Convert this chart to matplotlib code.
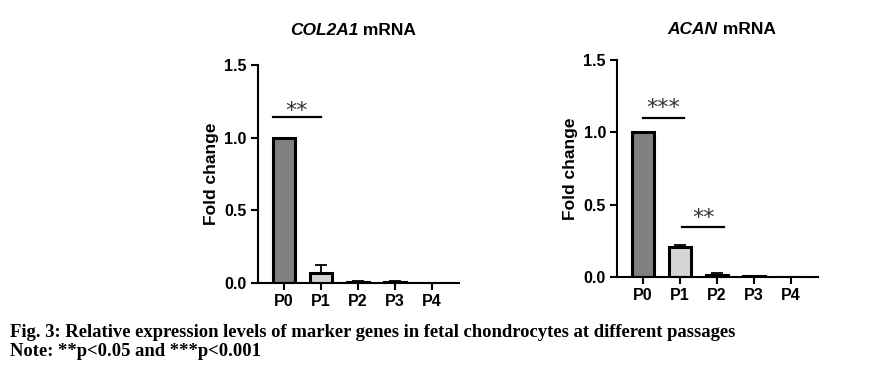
import numpy as np
import matplotlib.pyplot as plt

# Data
passages = ["P0", "P1", "P2", "P3", "P4"]
col2a1_mean = [1.0, 0.071, 0.005, 0.004, 0.0]
col2a1_err = [0.0, 0.055, 0.009, 0.008, 0.0]
acan_mean = [1.0, 0.21, 0.014, 0.004, 0.0]
acan_err = [0.0, 0.013, 0.014, 0.006, 0.0]
bar_colors = ["#808080", "#d4d4d4", "#d4d4d4", "#d4d4d4", "#d4d4d4"]

sans = ["Liberation Sans", "DejaVu Sans"]

fig = plt.figure(figsize=(8.73, 3.78), dpi=100)
ax1 = fig.add_axes([0.2955, 0.2513, 0.2303, 0.577])
ax2 = fig.add_axes([0.7068, 0.2672, 0.2302, 0.574])

x = np.arange(len(passages))


def draw(ax, mean, err, title_it, title_y, sig):
    ax.bar(x, mean, width=0.6, color=bar_colors, edgecolor="black", linewidth=2.2, zorder=2)
    ax.errorbar(x, mean, yerr=[np.zeros(len(err)), err], fmt="none", ecolor="black",
                elinewidth=1.3, capsize=4.5, capthick=1.3, zorder=1)
    ax.set_xlim(-0.7, 4.73)
    ax.set_ylim(0, 1.5)
    ax.set_yticks([0.0, 0.5, 1.0, 1.5])
    ax.set_yticklabels(["0.0", "0.5", "1.0", "1.5"])
    ax.set_xticks(x)
    ax.set_xticklabels(passages)
    for lab in ax.get_xticklabels() + ax.get_yticklabels():
        lab.set_family(sans)
        lab.set_fontweight("bold")
        lab.set_fontsize(11.5)
    ax.spines["top"].set_visible(False)
    ax.spines["right"].set_visible(False)
    ax.spines["left"].set_linewidth(1.5)
    ax.spines["bottom"].set_linewidth(1.5)
    ax.tick_params(width=1.5, length=5, pad=3)
    ax.set_ylabel("Fold change", family=sans, fontweight="bold", fontsize=12.5, labelpad=4)
    ax.text(0.5, title_y, title_it, transform=ax.transAxes, ha="right", va="center",
            family=sans, fontstyle="italic", fontweight="bold", fontsize=12.5)
    ax.text(0.5, title_y, " mRNA", transform=ax.transAxes, ha="left", va="center",
            family=sans, fontweight="bold", fontsize=12.5)
    for x0, x1, y, stars, off in sig:
        ax.plot([x0, x1], [y, y], color="black", linewidth=1.6, clip_on=False)
        ax.text((x0 + x1) / 2, y + off, stars, ha="center", va="baseline",
                fontsize=16, color="#333333", family=["DejaVu Sans"])


draw(ax1, col2a1_mean, col2a1_err, "COL2A1", 1.16,
     [(-0.3, 1.0, 1.14, "**", 0.0)])
draw(ax2, acan_mean, acan_err, "ACAN", 1.14,
     [(0.0, 1.1, 1.10, "***", 0.03), (1.05, 2.2, 0.345, "**", 0.02)])

fig.text(0.012, 0.121, "Fig. 3: Relative expression levels of marker genes in fetal chondrocytes at different passages",
         family="Liberation Serif", fontweight="bold", fontsize=13.4, va="center")
fig.text(0.012, 0.069, "Note: **p<0.05 and ***p<0.001",
         family="Liberation Serif", fontweight="bold", fontsize=13.4, va="center")

fig.savefig("out.png", dpi=100)
